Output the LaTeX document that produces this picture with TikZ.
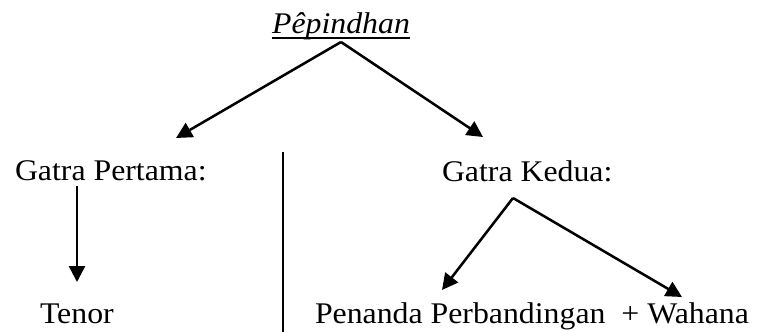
\documentclass[tikz,border=0pt]{standalone}
\usepackage{fontspec}
\setmainfont{Liberation Serif}[FakeStretch=1.06]
\usetikzlibrary{arrows.meta}
\begin{document}
\begin{tikzpicture}[x=0.75pt,y=-0.75pt,
  lbl/.style={inner sep=0pt,outer sep=0pt,font=\fontsize{22.5}{27}\selectfont},
  conn/.style={line width=1.9pt,-{Triangle[length=12pt,width=12pt]}},
  sep/.style={line width=1.9pt}]
\useasboundingbox (0,0) rectangle (757,332);
\node[lbl,anchor=base,font=\fontsize{22.5}{27}\selectfont\itshape] (title) at (341,33) {Pêpindhan};
\draw[line width=1.5pt] ([yshift=-4pt]title.base west) -- ([yshift=-4pt]title.base east);
\node[lbl,anchor=base west] (g1) at (15,180) {Gatra Pertama:};
\node[lbl,anchor=base west] (g2) at (442,181) {Gatra Kedua:};
\node[lbl,anchor=base west] (tenor) at (40,323) {Tenor};
\node[lbl,anchor=base west] (pen) at (315,323) {Penanda Perbandingan\ \ + Wahana};
\coordinate (apex) at (341,42);
\coordinate (t1) at (176,138);
\coordinate (t2) at (483,137);
\draw[conn] (apex) -- (t1);
\draw[conn] (apex) -- (t2);
\coordinate (v1) at (77,186);
\coordinate (v2) at (77,282);
\draw[conn] (v1) -- (v2);
\coordinate (apex2) at (513,198);
\coordinate (t3) at (442,290);
\coordinate (t4) at (682,297);
\draw[conn] (apex2) -- (t3);
\draw[conn] (apex2) -- (t4);
\coordinate (s1) at (283,152);
\coordinate (s2) at (283,332);
\draw[sep] (s1) -- (s2);
\end{tikzpicture}
\end{document}
